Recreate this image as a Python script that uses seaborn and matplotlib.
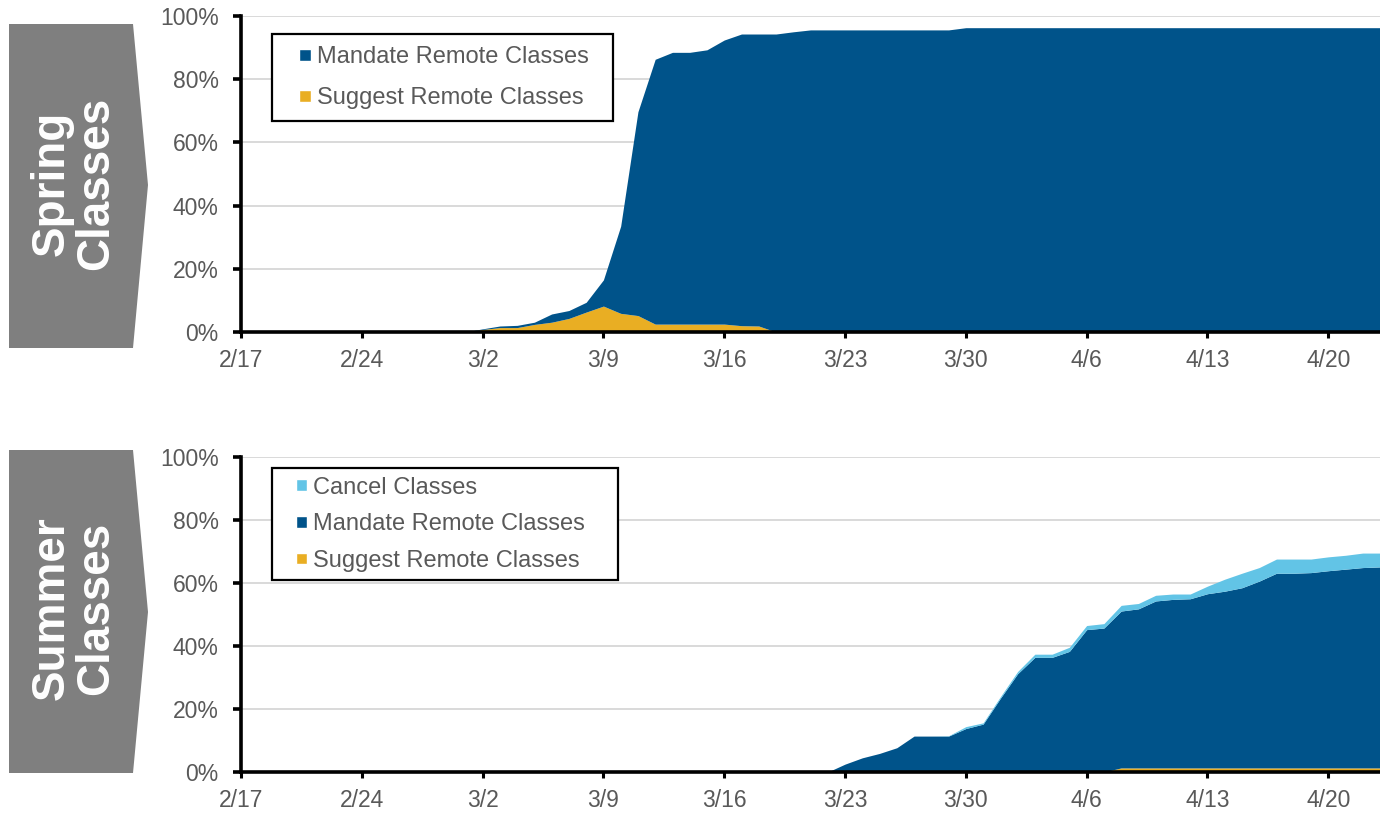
import matplotlib
matplotlib.use("Agg")
import matplotlib.pyplot as plt
from matplotlib.patches import Patch, Polygon, Rectangle
from matplotlib.legend_handler import HandlerPatch
import seaborn as sns
import pandas as pd

# days from 2/17 to 4/23 (one row below = one week)
dates = pd.date_range("2020-02-17", "2020-04-23", freq="D")

# Spring classes, % of schools
spring_suggest = [
    0, 0, 0, 0, 0, 0, 0,
    0, 0, 0, 0, 0, 0, 0,
    0.8, 1.4, 1.4, 2.4, 3.1, 4.3, 6.3,
    8.2, 5.9, 5.2, 2.5, 2.5, 2.5, 2.5,
    2.5, 2.0, 1.9, 0, 0, 0, 0,
    0, 0, 0, 0, 0, 0, 0,
    0, 0, 0, 0, 0, 0, 0,
    0, 0, 0, 0, 0, 0, 0,
    0, 0, 0, 0, 0, 0, 0,
    0, 0, 0, 0,
]
spring_mandate = [
    0, 0, 0, 0, 0, 0, 0,
    0, 0, 0, 0, 0, 0, 0,
    0.2, 0.5, 0.7, 0.7, 2.6, 2.5, 3.1,
    8.3, 27.6, 64.5, 83.8, 86.0, 86.0, 86.8,
    89.9, 92.3, 92.4, 94.3, 95.0, 95.6, 95.6,
    95.6, 95.6, 95.6, 95.6, 95.6, 95.6, 95.6,
    96.3, 96.3, 96.3, 96.3, 96.3, 96.3, 96.3,
    96.3, 96.3, 96.3, 96.3, 96.3, 96.3, 96.3,
    96.3, 96.3, 96.3, 96.3, 96.3, 96.3, 96.3,
    96.3, 96.3, 96.3, 96.3,
]

# Summer classes, % of schools
summer_suggest = [
    0, 0, 0, 0, 0, 0, 0,
    0, 0, 0, 0, 0, 0, 0,
    0, 0, 0, 0, 0, 0, 0,
    0, 0, 0, 0, 0, 0, 0,
    0, 0, 0, 0, 0, 0, 0,
    0, 0, 0, 0, 0, 0, 0,
    0, 0, 0, 0, 0, 0, 0,
    0, 0, 1.3, 1.3, 1.3, 1.3, 1.3,
    1.3, 1.3, 1.3, 1.3, 1.3, 1.3, 1.3,
    1.3, 1.3, 1.3, 1.3,
]
summer_mandate = [
    0, 0, 0, 0, 0, 0, 0,
    0, 0, 0, 0, 0, 0, 0,
    0, 0, 0, 0, 0, 0, 0,
    0, 0, 0, 0, 0, 0, 0,
    0, 0, 0, 0, 0, 0, 0,
    2.5, 4.5, 5.9, 7.7, 11.4, 11.4, 11.4,
    13.8, 15.2, 23.4, 31.2, 36.4, 36.4, 38.3,
    45.2, 45.7, 49.8, 50.5, 53.0, 53.5, 53.7,
    55.3, 56.1, 57.2, 59.3, 61.8, 61.8, 62.0,
    62.6, 63.1, 63.6, 63.8,
]
summer_cancel = [
    0, 0, 0, 0, 0, 0, 0,
    0, 0, 0, 0, 0, 0, 0,
    0, 0, 0, 0, 0, 0, 0,
    0, 0, 0, 0, 0, 0, 0,
    0, 0, 0, 0, 0, 0, 0,
    0, 0, 0, 0, 0, 0, 0.1,
    0.6, 0.4, 0.5, 0.7, 1.0, 1.0, 1.3,
    1.3, 1.4, 1.8, 1.7, 1.8, 1.7, 1.5,
    2.4, 3.8, 4.6, 4.3, 4.5, 4.5, 4.3,
    4.4, 4.4, 4.6, 4.4,
]

YELLOW = "#E9AE23"
DARK_BLUE = "#00538A"
LIGHT_BLUE = "#62C4E6"
GRAY_TEXT = "#595959"

sns.set_theme(style="white")
plt.rcParams["font.family"] = ["Liberation Sans", "DejaVu Sans"]

W, H = 1380, 814
fig = plt.figure(figsize=(W / 100, H / 100), dpi=100)


def fx(px):
    return px / W


def fy(py):
    return 1 - py / H


def square_handle(legend, orig_handle, xdescent, ydescent, width, height, fontsize):
    # small square sitting at the right end of the handle box
    s = 0.5 * fontsize
    return Rectangle((width - xdescent - s, -ydescent + (height - s) / 2), s, s)


def draw_panel(ax, layers, colors, labels, leg_box, leg_pad, leg_spacing):
    ax.stackplot(dates, *layers, colors=colors, linewidth=0)
    ax.set_xlim(dates[0], dates[-1])
    ax.set_ylim(0, 100)
    ax.set_yticks(range(0, 101, 20))
    ax.set_yticklabels([f"{v}%" for v in range(0, 101, 20)])
    ticks = dates[::7]
    ax.set_xticks(ticks)
    ax.set_xticklabels([f"{d.month}/{d.day}" for d in ticks])
    ax.yaxis.grid(True, color="#D9D9D9", linewidth=1.4)
    ax.xaxis.grid(False)
    ax.set_axisbelow(True)
    for side in ["top", "right"]:
        ax.spines[side].set_visible(False)
    for side in ["left", "bottom"]:
        ax.spines[side].set_color("black")
        ax.spines[side].set_linewidth(2.6)
        ax.spines[side].set_zorder(5)
    ax.tick_params(axis="y", left=True, length=6, width=2.6, color="black",
                   labelsize=16.5, labelcolor=GRAY_TEXT, pad=10)
    ax.tick_params(axis="x", bottom=True, length=4.5, width=2.2, color="black",
                   labelsize=16.5, labelcolor=GRAY_TEXT, pad=8)

    handles = [Patch(facecolor=c, label=l) for c, l in zip(colors, labels)][::-1]
    leg = ax.legend(handles=handles, loc="upper left", bbox_to_anchor=leg_box,
                    mode="expand", borderaxespad=0, fontsize=17, frameon=True,
                    fancybox=False, framealpha=1, edgecolor="black",
                    borderpad=leg_pad, handlelength=1.15, handleheight=0.7,
                    handletextpad=0.25, labelspacing=leg_spacing,
                    handler_map={Patch: HandlerPatch(patch_func=square_handle)})
    leg.get_frame().set_linewidth(1.6)
    for t in leg.get_texts():
        t.set_color(GRAY_TEXT)


def side_label(text, top, tip, bottom):
    shape = Polygon([(fx(9), fy(top)), (fx(133), fy(top)), (fx(148), fy(tip)),
                     (fx(133), fy(bottom)), (fx(9), fy(bottom))],
                    closed=True, facecolor="#7F7F7F", edgecolor="none",
                    transform=fig.transFigure)
    fig.add_artist(shape)
    fig.text(fx(74), fy((top + bottom) / 2 - 3), text, rotation=90, ha="center",
             va="center", multialignment="center", color="white", fontsize=33,
             fontweight="bold", linespacing=1.0)


ax_top = fig.add_axes([fx(241), fy(332), 1 - fx(241), fy(16) - fy(332)])
draw_panel(ax_top, [spring_suggest, spring_mandate], [YELLOW, DARK_BLUE],
           ["Suggest Remote Classes", "Mandate Remote Classes"],
           (0.027, 0.943, 0.2994, 0), 0.52, 0.8)

ax_bot = fig.add_axes([fx(241), fy(772), 1 - fx(241), fy(457) - fy(772)])
draw_panel(ax_bot, [summer_suggest, summer_mandate, summer_cancel],
           [YELLOW, DARK_BLUE, LIGHT_BLUE],
           ["Suggest Remote Classes", "Mandate Remote Classes", "Cancel Classes"],
           (0.027, 0.965, 0.3038, 0), 0.36, 0.62)

side_label("Spring\nClasses", 24, 185, 348)
side_label("Summer\nClasses", 450, 612, 773)

fig.savefig("out.png", dpi=100)
